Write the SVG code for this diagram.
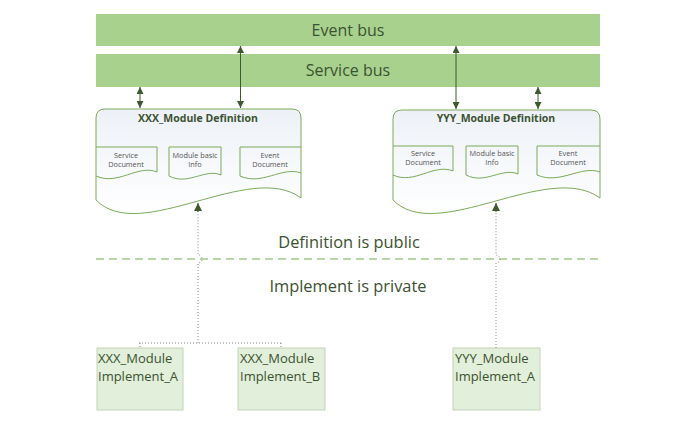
<svg xmlns="http://www.w3.org/2000/svg" width="700" height="430" viewBox="0 0 700 430">
<defs>
<linearGradient id="defg" x1="0" y1="0" x2="0" y2="1">
<stop offset="0" stop-color="#edf1f7"/>
<stop offset="1" stop-color="#ffffff"/>
</linearGradient>
<marker id="ah" viewBox="0 0 10 10" refX="10" refY="5" markerWidth="7" markerHeight="7" markerUnits="userSpaceOnUse" orient="auto-start-reverse">
<path d="M0,0 L10,5 L0,10 Z" fill="#3d5a2e"/>
</marker>
<marker id="ah2" viewBox="0 0 10 10" refX="10" refY="5" markerWidth="8" markerHeight="8" markerUnits="userSpaceOnUse" orient="auto">
<path d="M0,0 L10,5 L0,10 Z" fill="#3d5a2e"/>
</marker>
</defs>
<style>
.bus{fill:#a9d18e;}
.bust{font-family:"Open Sans",sans-serif;font-size:16px;fill:#3b5230;text-anchor:middle;}
.defbox{fill:url(#defg);stroke:#7aab5a;stroke-width:1;}
.sub{fill:none;stroke:#7aab5a;stroke-width:1;}
.title{font-family:"Open Sans",sans-serif;font-size:10.5px;font-weight:bold;fill:#3b5230;text-anchor:middle;}
.subt{font-family:"Open Sans",sans-serif;font-size:7.3px;fill:#555555;text-anchor:middle;}
.impl{fill:#e2efda;stroke:#c3d3b8;stroke-width:1;}
.implt{font-family:"Open Sans",sans-serif;font-size:13px;fill:#3b5230;}
.zone{font-family:"Open Sans",sans-serif;font-size:16.4px;fill:#3b5230;text-anchor:middle;}
.arr{stroke:#3d5a2e;stroke-width:1;fill:none;}
.dot{stroke:#8a8a8a;stroke-width:1;stroke-dasharray:1 2;fill:none;}
</style>

<g id="event-bus">
<rect class="bus" x="96" y="14" width="504" height="32"/>
<text class="bust" x="348" y="36">Event  bus</text>
</g>
<g id="service-bus">
<rect class="bus" x="96" y="54" width="504" height="33"/>
<text class="bust" x="348" y="76">Service bus</text>
</g>

<g id="xxx-definition">
<path class="defbox" d="M96,118 Q96,109 105,109 L292,109 Q301,109 301,118 L301,198 C250,160 140,245 96,200 Z"/>
<text class="title" x="198" y="122">XXX_Module Definition</text>
<path class="sub" d="M96,147 L157,147 L157,172 C138,164 118,186 96,176"/>
<path class="sub" d="M169,147 L221,147 L221,175 C205,168 188,186 169,176 Z"/>
<path class="sub" d="M240,147 L301,147 M301,173 C282,166 262,186 240,176 L240,147"/>
<text class="subt" x="126" y="157.5">Service</text>
<text class="subt" x="126" y="166.5">Document</text>
<text class="subt" x="195" y="157.5">Module basic</text>
<text class="subt" x="195" y="166.5">Info</text>
<text class="subt" x="270" y="157.5">Event</text>
<text class="subt" x="270" y="166.5">Document</text>
</g>

<g id="yyy-definition">
<path class="defbox" d="M393,119 Q393,110 402,110 L591,110 Q600,110 600,119 L600,198 C548,160 437,245 393,200 Z"/>
<text class="title" x="496" y="122">YYY_Module Definition</text>
<path class="sub" d="M393,146 L453,146 L453,171 C434,163 414,185 393,175"/>
<path class="sub" d="M466,146 L518,146 L518,174 C502,167 485,185 466,175 Z"/>
<path class="sub" d="M537,146 L600,146 M600,172 C581,165 560,185 537,175 L537,146"/>
<text class="subt" x="423" y="155.5">Service</text>
<text class="subt" x="423" y="164.5">Document</text>
<text class="subt" x="492" y="155.5">Module basic</text>
<text class="subt" x="492" y="164.5">Info</text>
<text class="subt" x="568" y="155.5">Event</text>
<text class="subt" x="568" y="164.5">Document</text>
</g>

<g id="zone-labels">
<text class="zone" x="349" y="248">Definition is public</text>
<line x1="96" y1="259" x2="600" y2="259" stroke="#a3c98a" stroke-width="1.5" stroke-dasharray="8 5"/>
<text class="zone" x="348" y="292">Implement is private</text>
</g>

<g id="xxx-impl-a">
<rect class="impl" x="97" y="348" width="86" height="62"/>
<text class="implt" x="98" y="363">XXX_Module</text>
<text class="implt" x="98" y="381">Implement_A</text>
</g>
<g id="xxx-impl-b">
<rect class="impl" x="238" y="348" width="87" height="62"/>
<text class="implt" x="240" y="363">XXX_Module</text>
<text class="implt" x="240" y="381">Implement_B</text>
</g>
<g id="yyy-impl-a">
<rect class="impl" x="453" y="348" width="87" height="62"/>
<text class="implt" x="455" y="363">YYY_Module</text>
<text class="implt" x="455" y="381">Implement_A</text>
</g>

<g id="connectors">
<line class="arr" x1="140" y1="87" x2="140" y2="108" marker-start="url(#ah)" marker-end="url(#ah)"/>
<line class="arr" x1="240.5" y1="46" x2="240.5" y2="108" marker-start="url(#ah)" marker-end="url(#ah)"/>
<line class="arr" x1="456" y1="46" x2="456" y2="109" marker-start="url(#ah)" marker-end="url(#ah)"/>
<line class="arr" x1="538" y1="87" x2="538" y2="109" marker-start="url(#ah)" marker-end="url(#ah)"/>
<path class="dot" d="M198,343 L198,263 A4,4 0 0 0 198,255 L198,211"/>
<line class="arr" x1="198" y1="212" x2="198" y2="203" marker-end="url(#ah2)"/>
<path class="dot" d="M139,343 L281,343 M140,343 L140,348 M281,343 L281,348"/>
<path class="dot" d="M496,348 L496,263 A4,4 0 0 0 496,255 L496,211"/>
<line class="arr" x1="496" y1="212" x2="496" y2="203" marker-end="url(#ah2)"/>
</g>
</svg>
